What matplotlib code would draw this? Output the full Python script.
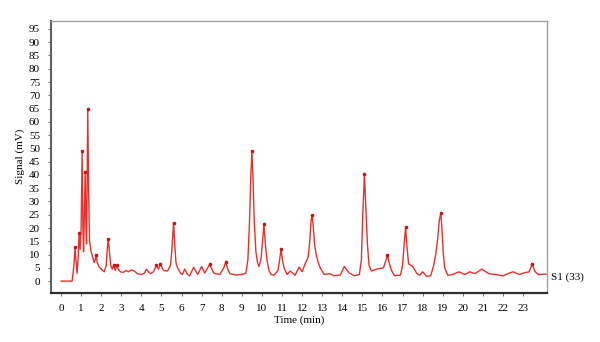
import numpy as np
import matplotlib
matplotlib.use('Agg')
import matplotlib.pyplot as plt

# chromatogram trace (time in min, signal in mV)
time_min = [0.00, 0.55, 0.60, 0.66, 0.70, 0.74, 0.80, 0.86, 0.90, 0.95, 1.00, 1.05,
            1.09, 1.12, 1.16, 1.20, 1.24, 1.27, 1.30, 1.33, 1.37, 1.42, 1.50, 1.58,
            1.65, 1.70, 1.75, 1.80, 1.88, 2.00, 2.15, 2.25, 2.30, 2.35, 2.40, 2.47,
            2.55, 2.62, 2.70, 2.78, 2.85, 2.95, 3.10, 3.25, 3.35, 3.50, 3.65, 3.80,
            4.00, 4.15, 4.25, 4.35, 4.45, 4.60, 4.75, 4.85, 4.95, 5.10, 5.30, 5.45,
            5.52, 5.60, 5.66, 5.72, 5.80, 5.95, 6.05, 6.15, 6.30, 6.40, 6.60, 6.80,
            7.00, 7.15, 7.40, 7.60, 7.90, 8.10, 8.20, 8.30, 8.40, 8.70, 9.00, 9.20,
            9.30, 9.38, 9.45, 9.50, 9.55, 9.62, 9.70, 9.78, 9.85, 9.95, 10.02, 10.10,
            10.17, 10.25, 10.35, 10.45, 10.60, 10.80, 10.88, 10.95, 11.02, 11.10, 11.25, 11.40,
            11.65, 11.85, 12.00, 12.15, 12.30, 12.38, 12.45, 12.50, 12.56, 12.62, 12.70, 12.80,
            12.90, 13.10, 13.35, 13.60, 13.90, 14.10, 14.35, 14.60, 14.85, 14.95, 15.02, 15.10,
            15.17, 15.25, 15.33, 15.45, 15.70, 15.90, 16.05, 16.18, 16.25, 16.33, 16.45, 16.60,
            16.90, 17.00, 17.08, 17.15, 17.22, 17.30, 17.50, 17.70, 17.85, 18.00, 18.20, 18.40,
            18.55, 18.65, 18.75, 18.83, 18.90, 18.96, 19.03, 19.10, 19.25, 19.50, 19.80, 20.10,
            20.35, 20.60, 20.95, 21.30, 21.60, 22.00, 22.30, 22.50, 22.80, 23.10, 23.30, 23.45,
            23.60, 23.75, 24.15]
signal_mv = [0.0, 0.0, 3.0, 8.0, 12.8, 8.0, 3.0, 10.0, 18.0, 12.0, 20.0, 49.0,
             20.0, 11.0, 25.0, 41.0, 20.0, 14.0, 40.0, 65.0, 35.0, 15.0, 11.0, 9.0,
             7.0, 8.0, 10.0, 7.0, 5.5, 4.5, 3.5, 6.0, 12.0, 16.0, 12.0, 6.0,
             4.5, 6.0, 4.0, 6.0, 4.5, 3.5, 3.3, 4.0, 3.5, 4.2, 3.8, 2.8,
             2.5, 3.0, 4.5, 3.5, 2.8, 3.5, 6.0, 4.5, 6.5, 4.0, 3.8, 6.0,
             12.0, 22.0, 14.0, 7.0, 5.0, 3.0, 2.5, 4.5, 2.5, 2.0, 5.2, 2.5,
             5.5, 3.0, 6.3, 3.0, 2.5, 5.0, 7.2, 4.5, 2.8, 2.3, 2.5, 3.0,
             8.0, 22.0, 40.0, 49.0, 40.0, 22.0, 11.0, 7.0, 5.5, 8.0, 14.0, 21.5,
             14.0, 8.0, 4.0, 2.5, 2.2, 4.0, 8.0, 12.0, 8.0, 5.0, 2.5, 3.8,
             2.2, 5.3, 3.5, 6.5, 9.0, 15.0, 23.0, 24.9, 20.0, 14.0, 10.0, 7.0,
             5.0, 2.5, 2.8, 2.0, 2.3, 5.5, 3.0, 2.0, 2.5, 8.0, 25.0, 40.4,
             28.0, 14.0, 6.0, 3.8, 4.5, 4.8, 5.0, 8.0, 9.8, 7.0, 4.0, 2.0,
             2.3, 6.0, 14.0, 20.3, 13.0, 6.5, 5.5, 3.0, 2.2, 3.5, 1.8, 2.0,
             6.0, 10.0, 16.0, 23.0, 25.6, 20.0, 10.0, 5.0, 2.2, 2.5, 3.5, 2.5,
             3.5, 2.8, 4.5, 2.8, 2.5, 2.0, 3.0, 3.5, 2.5, 3.2, 3.5, 6.4,
             3.5, 2.5, 2.6]

x_ticks = list(range(0, 24))
y_ticks = list(range(0, 100, 5))

t = np.array(time_min)
s = np.array(signal_mv)

# local maxima get the little apex dots
peak = (s[1:-1] > s[:-2]) & (s[1:-1] > s[2:]) & (s[1:-1] >= 6)
peak_idx = np.where(peak)[0] + 1

plt.rcParams['font.family'] = ['Liberation Serif', 'DejaVu Serif']

fig = plt.figure(figsize=(6, 3.42), dpi=100)
ax = fig.add_axes([0.085, 0.1447, 0.826, 0.794])

ax.plot(t, s, color='#e8302a', lw=1.0, solid_joinstyle='round')
ax.plot(t[peak_idx], s[peak_idx], 'o', color='#c41616', ms=1.6)

ax.set_xlim(-0.5, 24.17)
ax.set_ylim(-4.3, 98)
ax.set_xticks(x_ticks)
ax.set_yticks(y_ticks)
ax.tick_params(labelsize=8, length=2, width=0.6, color='#555555', pad=6)

ax.set_xlabel('Time (min)', fontsize=8, labelpad=2)
ax.set_ylabel('Signal (mV)', fontsize=8, labelpad=3)

for side in ['top', 'right']:
    ax.spines[side].set_color('#a0a0a0')
    ax.spines[side].set_linewidth(1.0)
ax.spines['left'].set_color('#606060')
ax.spines['left'].set_linewidth(1.5)
ax.spines['bottom'].set_color('#303030')
ax.spines['bottom'].set_linewidth(1.6)

ax.text(1.008, (1.5 + 4.3) / 102.3, 'S1 (33)', transform=ax.transAxes,
        fontsize=8, va='center', ha='left')

fig.savefig('out.png', dpi=100)
